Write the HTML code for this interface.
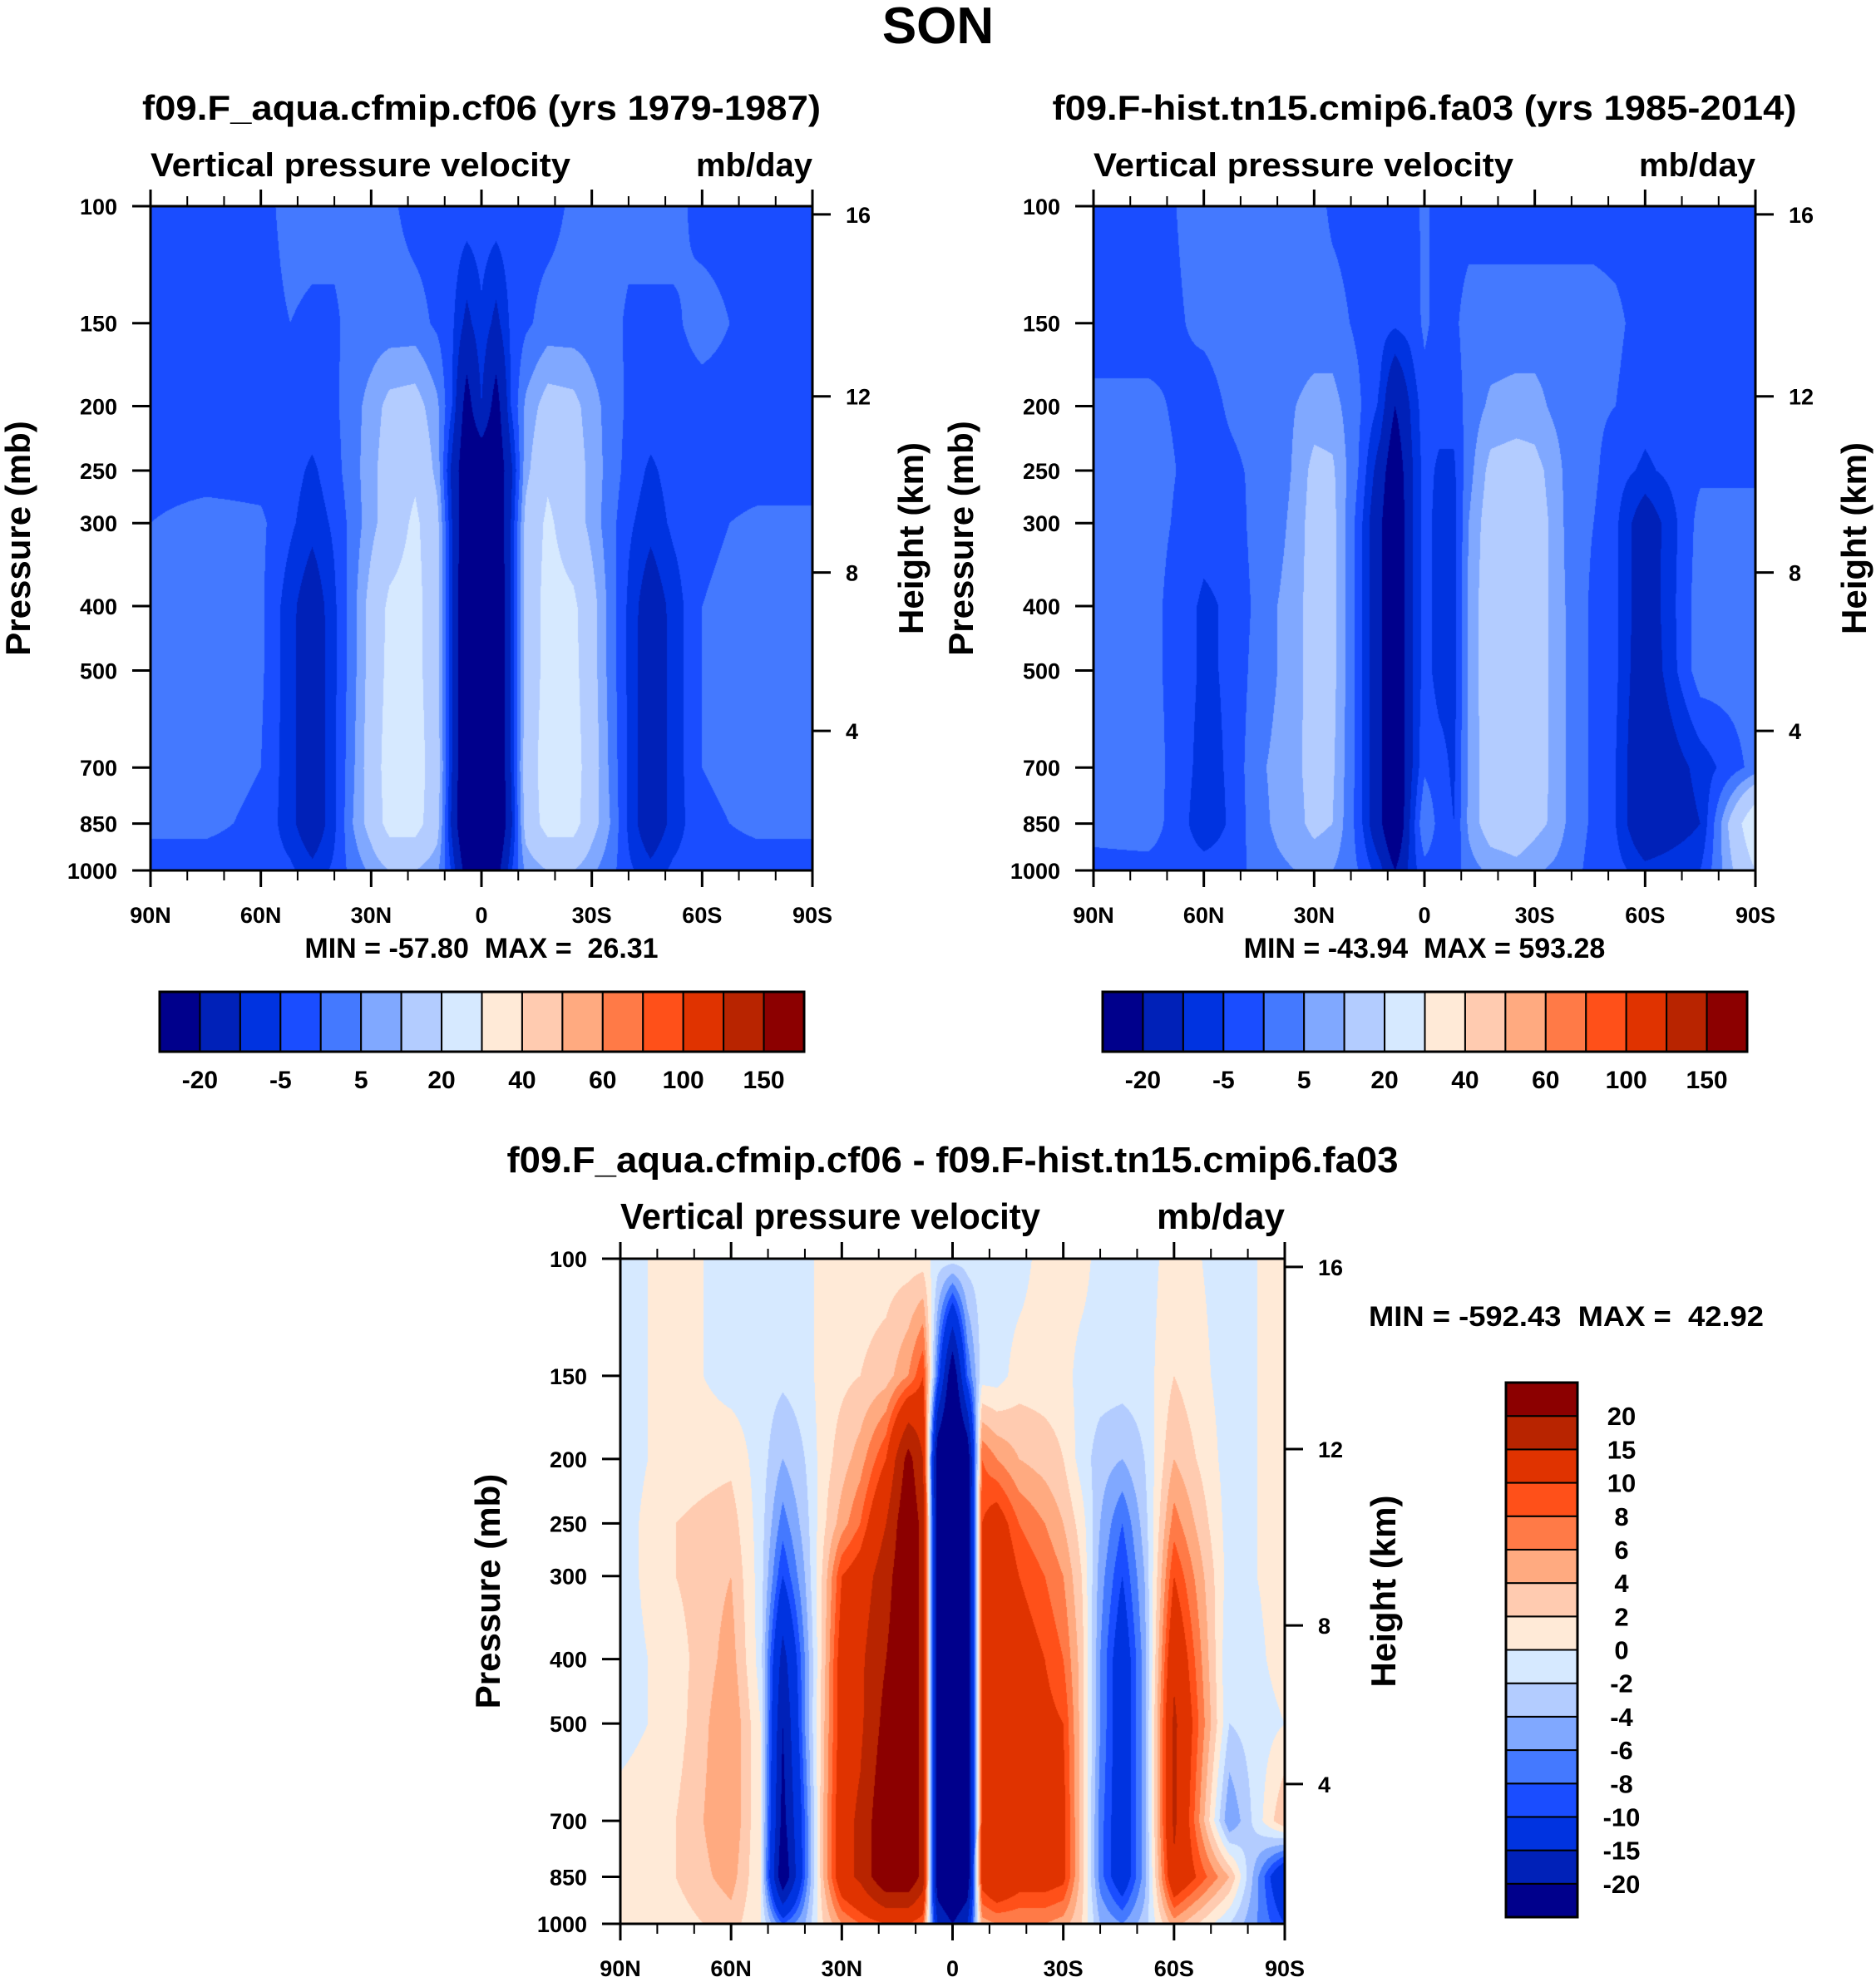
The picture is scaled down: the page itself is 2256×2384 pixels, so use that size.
<!DOCTYPE html>
<html><head><meta charset="utf-8">
<style>
html,body{margin:0;padding:0;background:#fff;}
body{width:2256px;height:2384px;position:relative;overflow:hidden;font-family:"Liberation Sans",sans-serif;}
canvas{position:absolute;}
svg{position:absolute;left:0;top:0;}
</style></head>
<body>
<canvas id="c1" style="left:181px;top:248px" width="796" height="799"></canvas>
<canvas id="c2" style="left:1315px;top:248px" width="796" height="799"></canvas>
<canvas id="c3" style="left:746px;top:1514px" width="799" height="800"></canvas>
<svg id="svg" width="2256" height="2384" xmlns="http://www.w3.org/2000/svg"></svg>
<script>
// ---- data ----
const lats=[90,75,60,52,46,40,35,30,25,18,12,8,4,0,-4,-8,-12,-18,-25,-30,-35,-40,-46,-52,-60,-75,-90];
const levels=[100,150,200,250,300,400,500,700,850,1000];
const field1=[
[-2,-2,-2,2,2,2,2,2,1,-2,-2,-2,-2,-2,-2,-2,-2,-2,1,2,2,2,2,2,-2,-2,-2],
[-2,-2,-2,0,-1,-1,2,2,2,2,-1,-4,-12,-6,-12,-4,-1,2,2,2,2,-1,-1,-1,2,-2,-2],
[-2,-2,-2,-2,-2,-1,3,7,12,13,6,-5,-25,-10,-25,-5,6,13,12,7,3,-1,-2,-2,-2,-2,-2],
[-2,-2,-2,-3,-6,-2,3,8,14,18,8,-12,-30,-30,-30,-12,8,18,14,8,3,-2,-6,-3,-2,-2,-2],
[0,2,1,-4,-8,-4,2,8,14,22,12,-10,-30,-30,-30,-10,12,22,14,8,2,-4,-8,-4,-1,1,1],
[1,2,1,-8,-15,-6,3,13,22,24,12,-10,-35,-35,-35,-10,12,24,22,13,3,-6,-15,-8,0,2,2],
[1,2,1,-8,-16,-6,3,13,23,24,12,-10,-35,-35,-35,-10,12,24,23,13,3,-6,-16,-8,0,2,2],
[1,2,0,-8,-16,-6,4,14,25,25,14,-10,-35,-35,-35,-10,14,25,25,14,4,-6,-16,-8,0,2,2],
[1,1,-1,-8,-16,-6,5,13,24,24,13,-12,-35,-35,-35,-12,13,24,24,13,5,-6,-16,-8,-1,1,1],
[-2,-2,-2,-4,-8,-4,2,6,10,10,6,-6,-25,-25,-25,-6,6,10,10,6,2,-4,-8,-4,-2,-2,-2]];
const field2=[
[-2,-2,2,2,2,2,2,2,-1,-2,-2,-2,-2,1,-2,-2,-2,-2,-2,-2,-2,-2,-2,-2,-2,-2,-2],
[-2,-2,1,2,2,2,2,2,2,-1,-3,-4,-3,1,-2,-1,2,2,2,2,2,2,2,1,-2,-2,-2],
[1,1,-2,1,2,3,5,7,7,1,-6,-20,-10,-2,-3,-3,2,6,7,7,4,2,1,0,-3,-1,-2],
[2,2,-2,-1,1,2,6,12,11,0,-14,-30,-12,-3,-6,-6,3,12,13,12,8,2,1,-3,-6,-1,0],
[2,2,-3,-3,2,3,7,13,12,-2,-18,-35,-12,-3,-7,-7,5,14,15,13,9,2,0,-4,-15,2,0],
[2,2,-6,-4,1,5,8,13,12,-2,-18,-35,-12,-3,-7,-7,6,15,15,13,9,3,-1,-4,-15,3,2],
[2,2,-6,-4,2,5,8,13,12,-2,-18,-35,-12,-3,-7,-7,6,15,15,13,9,3,-1,-4,-16,3,2],
[1,3,-7,-4,4,6,9,12,11,-2,-18,-35,-12,-1,-3,-6,6,14,15,13,9,3,-1,-5,-18,-8,2],
[2,3,-8,-4,3,6,8,12,10,-2,-18,-35,-10,5,-2,-5,6,14,15,12,9,3,-1,-5,-18,-10,30],
[-2,-2,-3,-3,2,4,5,6,5,0,-8,-20,-8,-2,-3,-3,3,6,8,6,4,2,-2,-3,-8,-5,20]];
const field3=[
[-1,1,-1,-1,-1,-1,1,1,1,1,1,1,-1,-1,-1,-1,-1,-1,1,1,1,-1,-1,-1,1,-1,1],
[-1,1,-1,-1,-1.5,-1,1,1.5,2,3,6,10,-8,-25,-8,-1,-1,1,1,1,-1,-1,-1,-1,2,-1,1],
[-1,1,1.5,-1,-4,-2,1,3,5,10,22,15,-25,-30,-25,8,6,4,3,2,-1,-3,-4,-2,4,-1,1],
[-1,2,3,-1,-7,-3,1.5,5,8,15,25,18,-25,-30,-25,10,12,8,6,4,1,-4,-8,-3,7,-1,1],
[-1,2,4,-1,-10,-4,2.5,10,12,18,25,18,-25,-30,-25,10,14,10,8,6,2,-5,-10,-4,10,-1,1],
[-1,1,5,-1,-17,-6,3,12,14,20,25,18,-25,-30,-25,10,14,12,10,8,3,-6,-13,-5,14,-2,1],
[-1,1,6,0,-20,-6,3.5,12,14,22,25,18,-25,-30,-25,10,14,12,11,10,3,-6,-13,-5,16,-2,0],
[1,2,6,0,-22,-8,4,13,16,25,25,18,-25,-30,-25,11,14,12,12,11,3,-7,-13,-5,16,-6,4],
[1,2,5,0,-25,-8,4,13,16,25,25,18,-25,-30,-25,12,15,12,12,11,3,-7,-13,-5,14,4,-15],
[1,1,3,0,-8,-4,2,6,8,10,10,8,-15,-20,-15,5,6,6,6,5,2,-4,-6,-3,5,-2,-10]];
const colors=["#00008c","#0021b8","#0033e0","#1a4dff","#4479ff","#80a8ff","#b3ccff","#d6e9ff","#ffead7","#ffcbb0","#ffaa80","#ff7a47","#ff5019","#e03300","#b82400","#8c0000"];
const bounds12=[-20,-10,-5,0,5,10,20,30,40,50,60,80,100,120,150];
const cbLabels12=["-20","-5","5","20","40","60","100","150"];
const bounds3=[-20,-15,-10,-8,-6,-4,-2,0,2,4,6,8,10,15,20];
const cbLabels3=["-20","-15","-10","-8","-6","-4","-2","0","2","4","6","8","10","15","20"];
const pTicks=[100,150,200,250,300,400,500,700,850,1000];
const hTicks=[16,12,8,4];
const latTicks=[90,60,30,0,-30,-60,-90];
const latTickLabels=["90N","60N","30N","0","30S","60S","90S"];

// ---- rendering ----
function hexRgb(h){return [parseInt(h.substr(1,2),16),parseInt(h.substr(3,2),16),parseInt(h.substr(5,2),16)];}
const rgb=colors.map(hexRgb);
function binIndex(v,b){let i=0;while(i<b.length&&v>=b[i])i++;return i;}
function drawField(id,field,bounds){
  const cv=document.getElementById(id),ctx=cv.getContext('2d');
  const W=cv.width,H=cv.height,img=ctx.createImageData(W,H),d=img.data;
  const lgl=levels.map(p=>Math.log10(p));
  const colI=[],colT=[];
  for(let x=0;x<W;x++){const lat=90-180*(x+0.5)/W;let i=0;while(i<lats.length-2&&lat<lats[i+1])i++;colI.push(i);colT.push((lats[i]-lat)/(lats[i]-lats[i+1]));}
  for(let y=0;y<H;y++){
    const lp=2+(y+0.5)/H;let j=0;while(j<lgl.length-2&&lp>lgl[j+1])j++;
    const u=Math.min(1,Math.max(0,(lp-lgl[j])/(lgl[j+1]-lgl[j])));
    const r0=field[j],r1=field[j+1];
    for(let x=0;x<W;x++){
      const i=colI[x],t=colT[x];
      const a=r0[i]+(r0[i+1]-r0[i])*t,b=r1[i]+(r1[i+1]-r1[i])*t;
      const v=a+(b-a)*u;const c=rgb[binIndex(v,bounds)];const k=(y*W+x)*4;
      d[k]=c[0];d[k+1]=c[1];d[k+2]=c[2];d[k+3]=255;
    }
  }
  ctx.putImageData(img,0,0);
}
drawField('c1',field1,bounds12);
drawField('c2',field2,bounds12);
drawField('c3',field3,bounds3);

const NS='http://www.w3.org/2000/svg',svg=document.getElementById('svg');
function mk(tag,attrs,name){const el=document.createElementNS(NS,tag);for(const k in attrs)el.setAttribute(k,attrs[k]);
  
  
  svg.appendChild(el);return el;}
function txt(x,y,s,size,anchor,name,extra){const a={x:x,y:y,'font-size':size,'font-weight':'bold','text-anchor':anchor,'font-family':'Liberation Sans, sans-serif',fill:'#000'};if(extra)for(const k in extra)a[k]=extra[k];const el=mk('text',a,name);el.textContent=s;return el;}
function zToP(z){z*=1000;return z<=11000?1013.25*Math.pow(1-2.25577e-5*z,5.25588):226.32*Math.exp(-0.000157688*(z-11000));}

function panel(P){
  const L=P.x,T=P.y,W=P.w,H=P.h;
  const xs=lat=>L+(90-lat)/180*W, ys=p=>T+Math.log10(p/100)*H;
  mk('rect',{x:L,y:T,width:W,height:H,fill:'none',stroke:'#000','stroke-width':3},P.id+'-frame');
  for(let lat=90;lat>=-90;lat-=10){const maj=lat%30===0,len=maj?20:12,x=xs(lat);
    mk('line',{x1:x,y1:T,x2:x,y2:T-len,stroke:'#000','stroke-width':maj?3:2},P.id+'-top-tick');
    mk('line',{x1:x,y1:T+H,x2:x,y2:T+H+len,stroke:'#000','stroke-width':maj?3:2},P.id+'-bottom-tick');}
  latTicks.forEach((lat,i)=>txt(xs(lat),T+H+63,latTickLabels[i],27,'middle',P.id+'-lat-label'));
  pTicks.forEach(p=>{const y=ys(p);mk('line',{x1:L,y1:y,x2:L-22,y2:y,stroke:'#000','stroke-width':3},P.id+'-pressure-tick');
    txt(L-40,y+10,String(p),27,'end',P.id+'-pressure-label');});
  hTicks.forEach(z=>{const y=ys(zToP(z));mk('line',{x1:L+W,y1:y,x2:L+W+22,y2:y,stroke:'#000','stroke-width':3},P.id+'-height-tick');
    txt(L+W+40,y+10,String(z),27,'start',P.id+'-height-label');});
  txt(L,T-36,'Vertical pressure velocity',P.vs,'start',P.id+'-variable-name',{textLength:505,lengthAdjust:'spacingAndGlyphs'});
  txt(L+W,T-36,'mb/day',P.vs,'end',P.id+'-units');
  txt(L+W/2,T-104,P.title,P.ts,'middle',P.id+'-title',{textLength:P.tl,lengthAdjust:'spacingAndGlyphs'});
  txt(0,0,'Pressure (mb)',42,'middle',P.id+'-pressure-axis-title',{transform:'translate('+(L-145)+','+(T+H/2)+') rotate(-90)'});
  txt(0,0,'Height (km)',42,'middle',P.id+'-height-axis-title',{transform:'translate('+(L+W+133)+','+(T+H/2)+') rotate(-90)'});
}
panel({id:'control',x:181,y:248,w:796,h:799,title:'f09.F_aqua.cfmip.cf06 (yrs 1979-1987)',ts:42,tl:816,vs:40});
panel({id:'hist',x:1315,y:248,w:796,h:799,title:'f09.F-hist.tn15.cmip6.fa03 (yrs 1985-2014)',ts:42,tl:895,vs:40});
panel({id:'diff',x:746,y:1514,w:799,h:800,title:'f09.F_aqua.cfmip.cf06 - f09.F-hist.tn15.cmip6.fa03',ts:44,tl:1072,vs:44});

txt(1128,52,'SON',62,'middle','figure-title');
txt(579,1152,'MIN = -57.80\u00a0\u00a0MAX =\u00a0\u00a026.31',34,'middle','control-min-max');
txt(1713,1152,'MIN = -43.94\u00a0\u00a0MAX = 593.28',34,'middle','hist-min-max');
txt(1646,1595,'MIN = -592.43\u00a0\u00a0MAX =\u00a0\u00a042.92',34,'start','diff-min-max',{textLength:475,lengthAdjust:'spacingAndGlyphs'});

function hbar(x0,y0,w,h,id){const bw=w/colors.length;
  colors.forEach((c,i)=>mk('rect',{x:x0+i*bw,y:y0,width:bw,height:h,fill:c,stroke:'#000','stroke-width':2},id+'-box'));
  mk('rect',{x:x0,y:y0,width:w,height:h,fill:'none',stroke:'#000','stroke-width':3},id+'-frame');
  cbLabels12.forEach((s,k)=>txt(x0+(2*k+1)*bw,y0+h+44,s,30,'middle',id+'-label'));}
hbar(192,1193,775,72,'control-colorbar');
hbar(1326,1193,775,72,'hist-colorbar');
(function(){const x0=1811,y0=1663,w=86,h=643,bh=h/colors.length,id='diff-colorbar';
  colors.forEach((c,i)=>mk('rect',{x:x0,y:y0+h-(i+1)*bh,width:w,height:bh,fill:c,stroke:'#000','stroke-width':2},id+'-box'));
  mk('rect',{x:x0,y:y0,width:w,height:h,fill:'none',stroke:'#000','stroke-width':3},id+'-frame');
  cbLabels3.forEach((s,k)=>txt(1950,y0+h-(k+1)*bh+11,s,31,'middle',id+'-label'));})();
</script>
</body></html>
